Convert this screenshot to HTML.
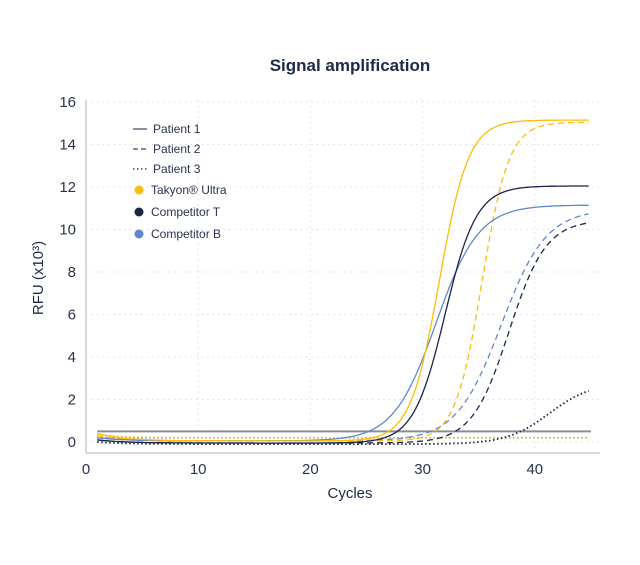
<!DOCTYPE html>
<html><head><meta charset="utf-8"><style>
body{margin:0;background:#fff;font-family:"Liberation Sans",sans-serif}
</style></head><body>
<svg id="s" width="640" height="560" xmlns="http://www.w3.org/2000/svg" font-family="Liberation Sans, sans-serif">
<rect width="640" height="560" fill="#fff"/>
<text x="350" y="71" text-anchor="middle" font-size="17" font-weight="bold" fill="#1e2a4a">Signal amplification</text>
<g id="grid" stroke="#dcdde3" stroke-dasharray="1.5,4" stroke-width="1"></g>
<line x1="86" y1="100" x2="86" y2="453" stroke="#d8d9e0" stroke-width="2"/>
<line x1="86" y1="453" x2="600" y2="453" stroke="#d8d9e0" stroke-width="2"/>
<g id="ticks" font-size="15" fill="#2a3350"></g>
<text x="350" y="498" text-anchor="middle" font-size="15" fill="#1e2a4a">Cycles</text>
<text transform="translate(43,278) rotate(-90)" text-anchor="middle" font-size="15" fill="#1e2a4a">RFU (x10³)</text>
<g id="curves" fill="none" stroke-width="1.3"></g>
<g font-size="12" fill="#2a3350">
<line x1="133" y1="129" x2="147" y2="129" stroke="#3b4566" stroke-width="1.2"/><text x="153" y="133">Patient 1</text>
<line x1="133" y1="149" x2="147" y2="149" stroke="#3b4566" stroke-width="1.2" stroke-dasharray="5,3"/><text x="153" y="153">Patient 2</text>
<line x1="133" y1="169" x2="147" y2="169" stroke="#3b4566" stroke-width="1.5" stroke-dasharray="1.5,2.5"/><text x="153" y="173">Patient 3</text>
<circle cx="139" cy="190" r="4.5" fill="#fbbd08"/><text x="151" y="194">Takyon® Ultra</text>
<circle cx="139" cy="212" r="4.5" fill="#1c2448"/><text x="151" y="216">Competitor T</text>
<circle cx="139" cy="234" r="4.5" fill="#6088c9"/><text x="151" y="238">Competitor B</text>
</g>
</svg>
<script>
const X=c=>86+c*11.22, Y=v=>442-v*21.25;
const NS="http://www.w3.org/2000/svg";
const g=document.getElementById('grid'),t=document.getElementById('ticks'),cv=document.getElementById('curves');
function el(p,tag,a,txt){const e=document.createElementNS(NS,tag);for(const k in a)e.setAttribute(k,a[k]);if(txt)e.textContent=txt;p.appendChild(e);return e;}
for(let v=0;v<=16;v+=2){el(g,'line',{x1:86,x2:600,y1:Y(v),y2:Y(v)});el(t,'text',{x:76,y:Y(v)+5,'text-anchor':'end'},String(v));}
for(let c=0;c<=40;c+=10){el(g,'line',{x1:X(c),x2:X(c),y1:100,y2:452});el(t,'text',{x:X(c),y:474,'text-anchor':'middle'},String(c));}
el(t,'line',{x1:X(1),x2:X(45),y1:Y(0.5),y2:Y(0.5),stroke:'#8a8d99','stroke-width':2});
function sig(c,m,s){return 1/(1+Math.exp(-(c-m)/s));}
function curve(col,dash,b0,base,A,m,s,w){let d='';for(let c=1;c<=45;c+=0.2){const v=base+(b0-base)*Math.exp(-(c-1)/2.5)+A*sig(c,m,s);d+=(d?'L':'M')+X(c).toFixed(1)+','+Y(v).toFixed(1);}
const a={d,stroke:col};if(dash)a['stroke-dasharray']=dash;if(w)a['stroke-width']=w;el(cv,'path',a);}
const Yc='#fbbd08',N='#1c2448',B='#6088c9';
curve(B,'1.5,2.5',0.2,0.2,0,50,1,1.6);
curve(Yc,'1.5,2.5',0.35,0.2,0,50,1,1.6);
curve(N,'1.5,2.5',0,-0.1,2.9,41.3,1.9,1.8);
curve(B,'6,4',0.2,0.05,10.9,37.0,2.0);
curve(N,'6,4',0.1,-0.05,10.5,37.7,1.65);
curve(Yc,'6,4',0.3,0.05,15,35.3,1.2);
curve(B,null,0.2,0.05,11.1,31.2,1.9);
curve(N,null,0.1,-0.05,12.1,32.0,1.4);
curve(Yc,null,0.4,0.05,15.1,31.5,1.3);
</script>
</body></html>
